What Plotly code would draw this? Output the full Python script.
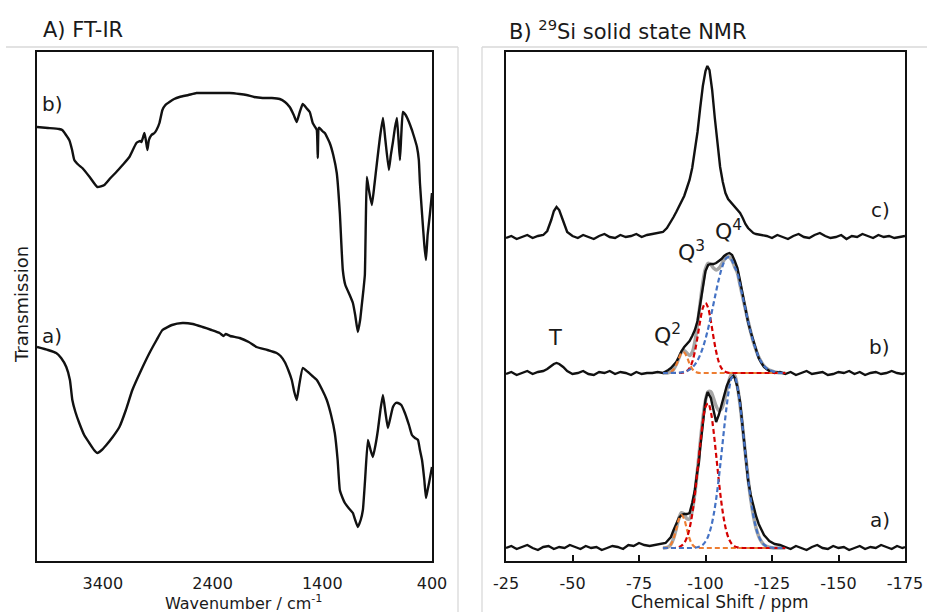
import plotly.graph_objects as go

# ---------------- A) FT-IR data (wavenumber cm-1, transmission arb. units, stacked) ----------------
ir_b_wn = [4000, 3900, 3800, 3770, 3706, 3680, 3660, 3620, 3587, 3520, 3450, 3386, 3330, 3277, 3220,
           3158, 3094, 3060, 3048, 3030, 3021, 3008, 2994, 2980, 2957, 2930, 2911, 2884, 2857, 2830,
           2793, 2750, 2701, 2620, 2546, 2450, 2363, 2245, 2153, 2090, 2020, 1943, 1860, 1788, 1740,
           1697, 1660, 1633, 1605, 1578, 1545, 1514, 1487, 1465, 1450, 1441, 1432, 1423, 1400, 1377,
           1332, 1300, 1268, 1240, 1213, 1190, 1150, 1121, 1100, 1076, 1055, 1040, 1025, 1012, 1003,
           994, 975, 948, 925, 902, 875, 847, 825, 793, 775, 756, 738, 720, 705, 692,
           680, 665, 640, 610, 583, 560, 537, 520, 510, 490, 470, 455, 440, 420, 400]
ir_b_t = [434, 433, 432, 431, 421, 411, 401, 396, 393, 384, 374, 376, 383, 389, 396,
          404, 418, 420, 419, 425, 428, 421, 411, 421, 426, 428, 431, 438, 451, 456,
          459, 462, 464, 466, 468, 468, 468, 468, 467, 466, 464, 463, 463, 462, 459,
          454, 446, 439, 449, 457, 453, 449, 438, 434, 431, 403, 433, 433, 430, 428,
          418, 406, 388, 348, 291, 276, 266, 258, 246, 229, 241, 256, 271, 286, 341,
          384, 371, 356, 376, 398, 423, 443, 421, 391, 406, 419, 433, 443, 421, 401,
          426, 449, 446, 439, 431, 423, 414, 401, 378, 346, 316, 301, 326, 346, 368]

ir_a_wn = [4000, 3900, 3825, 3780, 3733, 3700, 3678, 3650, 3615, 3570, 3523, 3480, 3450, 3410, 3368,
           3310, 3249, 3190, 3131, 3050, 2975, 2910, 2857, 2770, 2674, 2580, 2491, 2410, 2336, 2300,
           2280, 2240, 2153, 2070, 2000, 1900, 1816, 1780, 1742, 1710, 1678, 1655, 1633, 1610, 1578,
           1530, 1490, 1450, 1400, 1359, 1320, 1286, 1260, 1240, 1215, 1194, 1160, 1121, 1100, 1076,
           1050, 1030, 1010, 984, 960, 939, 915, 893, 870, 847, 825, 802, 780, 756, 730,
           710, 680, 647, 610, 583, 555, 528, 510, 491, 470, 455, 440, 427, 400]
ir_a_t = [214, 211, 208, 203, 194, 181, 161, 149, 138, 126, 118, 111, 108, 111, 116,
          124, 134, 151, 171, 191, 208, 221, 231, 236, 238, 237, 234, 231, 228, 225,
          227, 225, 223, 219, 214, 211, 208, 205, 199, 191, 181, 169, 161, 176, 193,
          189, 185, 181, 171, 161, 146, 128, 101, 71, 63, 58, 53, 48, 41, 34,
          41, 51, 81, 121, 111, 104, 116, 131, 151, 166, 149, 133, 143, 154, 158,
          158, 156, 148, 136, 126, 123, 121, 111, 101, 81, 63, 71, 78, 94]

ir_ticks = [3400, 2400, 1400, 400]

# ---------------- B) 29Si NMR data (ppm, intensity arb. units, stacked) ----------------
nmr_c_ppm = [-25, -27, -29, -31, -33, -35, -37, -39, -40.5, -42, -43, -44, -45, -46.5, -48, -50, -52,
             -54, -56, -58, -60, -62, -64, -66, -68, -70, -72, -74, -76, -78, -80, -82, -84, -85.5,
             -87, -88, -89, -90, -91, -92, -93, -94, -95, -96, -97, -98, -99, -100, -100.7, -101.5,
             -102.5, -103.5, -104.5, -105.5, -106.5, -107.5, -108.5, -110, -111.5, -113, -114, -115,
             -116, -117, -118, -119, -121, -123, -125, -127, -129, -131, -133, -135, -137, -139, -141,
             -143, -145, -147, -149, -151, -153, -155, -157, -159, -161, -163, -165, -167, -169, -171,
             -173, -175]
nmr_c_int = [323, 325, 322, 324, 326, 323, 325, 326, 330, 341, 350, 354, 351, 340, 329, 325, 323,
             326, 324, 322, 325, 327, 324, 323, 326, 324, 325, 327, 324, 326, 327, 328, 329, 333,
             339, 344, 349, 354, 359, 365, 373, 381, 393, 409, 429, 453, 475, 490, 495, 491,
             471, 443, 416, 394, 379, 368, 362, 357, 353, 348, 343, 337,
             333, 330, 328, 327, 326, 325, 323, 326, 324, 322, 325, 327, 324, 323, 326,
             328, 325, 323, 324, 326, 322, 325, 324, 327, 325, 323, 326, 324, 325, 323,
             324, 325]

nmr_b_ppm = [-25, -27, -29, -31, -33, -35, -37, -39, -40.5, -42, -43, -44, -45, -46.5, -48, -50, -52,
             -54, -56, -58, -60, -62, -64, -66, -68, -70, -72, -74, -76, -78, -80, -82, -84, -86,
             -87, -88, -89, -90, -91, -92, -93, -94, -95, -96, -97, -98, -99, -100, -101, -102,
             -103, -104, -105, -106, -107, -108, -109, -110, -111, -112, -113, -114, -115, -116,
             -117, -118, -119, -120, -121, -122, -123, -124, -126, -128, -130, -132, -134, -136,
             -138, -140, -142, -144, -146, -148, -150, -152, -154, -156, -158, -160, -162, -164,
             -166, -168, -170, -172, -174, -175]
nmr_b_int = [187, 189, 186, 188, 190, 187, 189, 190, 192, 195, 197, 198, 197, 194, 190, 187, 188,
             190, 187, 186, 189, 188, 190, 187, 189, 188, 186, 189, 187, 188, 188, 189, 188, 191,
             193, 196, 199, 204, 210, 214, 217, 220, 225, 231, 240, 258, 276, 290, 296, 297,
             297, 298, 300, 302, 305, 307, 308, 306, 300, 293, 280, 265, 251, 239,
             229, 220, 210, 203, 198, 194, 192, 190, 188, 189, 187, 189, 186, 188,
             190, 187, 188, 189, 186, 187, 189, 188, 190, 187, 189, 186, 188, 189,
             187, 188, 190, 188, 187, 188]

nmr_a_ppm = [-25, -27, -29, -31, -33, -35, -37, -39, -41, -43, -45, -47, -49, -51, -53, -55, -57,
             -59, -61, -63, -65, -67, -69, -71, -73, -75, -77, -79, -81, -83, -84, -85, -86, -87,
             -88, -89, -90, -91, -92, -93, -94, -95, -96, -97, -97.5, -98, -98.9, -99.5, -100,
             -100.8, -101.5, -102, -103, -104, -105, -106, -107, -108, -109, -110, -110.5, -111,
             -112, -113, -114, -115, -116, -117, -118, -119, -120, -121, -122, -123, -124, -126,
             -128, -130, -132, -134, -136, -138, -140, -142, -144, -146, -148, -150, -152, -154,
             -156, -158, -160, -162, -164, -166, -168, -170, -172, -174, -175]
nmr_a_int = [13, 15, 12, 14, 16, 13, 11, 14, 15, 12, 14, 13, 16, 14, 12, 15, 13,
             14, 11, 13, 15, 14, 12, 16, 15, 18, 16, 15, 16, 17, 17, 18, 21, 24,
             31, 37, 43, 46, 47, 47, 48, 58, 71, 91, 98, 113, 138, 151, 161,
             169, 166, 163, 151, 139, 146, 156, 167, 175, 181, 184, 185, 183,
             174, 159, 133, 108, 81, 66, 54, 45, 37, 31, 26, 23, 20, 17,
             16, 14, 12, 15, 13, 11, 14, 16, 13, 12, 15, 13, 14, 11,
             13, 15, 12, 14, 13, 16, 14, 12, 15, 13, 14]

# deconvolution components (height above spectrum baseline) on a common ppm grid
fit_ppm = [-84, -85, -86, -87, -88, -89, -90, -91, -92, -93, -94, -95, -96, -97, -98, -99, -100,
           -101, -102, -103, -104, -105, -106, -107, -108, -109, -110, -111, -112, -113, -114,
           -115, -116, -117, -118, -119, -120, -121, -122, -123, -124, -125, -126, -127, -128,
           -129, -130]
fit_b_base = 188
fit_b_q2 = [0, 0, 0.3, 1.1, 3.5, 8.2, 14.7, 20, 20.5, 16, 9.4, 4.2, 1.4, 0.4, 0, 0, 0,
            0, 0, 0, 0, 0, 0, 0, 0, 0, 0, 0, 0, 0, 0,
            0, 0, 0, 0, 0, 0, 0, 0, 0, 0, 0, 0, 0, 0, 0, 0]
fit_b_q3 = [0, 0, 0, 0, 0, 0, 0, 0.2, 0.6, 1.9, 4.8, 11, 21.4, 35.9, 52, 65, 70,
            65, 52, 35.9, 21.4, 11, 4.8, 1.9, 0.6, 0.2, 0, 0, 0, 0, 0,
            0, 0, 0, 0, 0, 0, 0, 0, 0, 0, 0, 0, 0, 0, 0, 0]
fit_b_q4 = [0, 0, 0, 0, 0.1, 0.2, 0.4, 0.7, 1.2, 2.1, 3.4, 5.4, 8.4, 12.6, 18.1, 25.3, 34.1,
            44.6, 56.5, 69.1, 81.7, 93.6, 103.7, 111.2, 115.3, 115.7, 112.3, 106, 100, 88, 76,
            64, 52, 41, 31, 23, 16, 11, 7, 4.5, 3, 2, 1, 0.5, 0.2, 0, 0]
fit_a_base = 13
fit_a_q2 = [0, 0.2, 1, 3.6, 9.5, 18.9, 28.7, 33, 28.7, 18.9, 9.5, 3.6, 1, 0.2, 0, 0, 0,
            0, 0, 0, 0, 0, 0, 0, 0, 0, 0, 0, 0, 0, 0,
            0, 0, 0, 0, 0, 0, 0, 0, 0, 0, 0, 0, 0, 0, 0, 0]
fit_a_q3 = [0, 0, 0, 0, 0, 0.3, 0.9, 2.3, 5.1, 10.4, 19.6, 33.8, 53.5, 77.6, 103.3, 126, 141,
            144.7, 136.3, 117.6, 93.1, 67.6, 45, 27.5, 15.4, 7.9, 3.7, 1.6, 0.6, 0.2, 0,
            0, 0, 0, 0, 0, 0, 0, 0, 0, 0, 0, 0, 0, 0, 0, 0]
fit_a_q4 = [0, 0, 0, 0, 0, 0, 0, 0, 0, 0, 0, 0, 0.3, 0.8, 1.6, 3.3, 6.5,
            11.7, 20, 32.3, 48.9, 69.9, 94.1, 119.4, 142.8, 160.9, 170.8, 170.8, 160.9, 142.8, 119.4,
            94.1, 69.9, 48.9, 32.3, 20, 11.7, 6.5, 3.3, 1.6, 0.8, 0.3, 0, 0, 0, 0, 0]

nmr_ticks = [-25, -50, -75, -100, -125, -150, -175]

# ---------------- figure ----------------
W, H = 927, 612
FONT = "DejaVu Sans"
BLACK = "#111111"
C_Q2, C_Q3, C_Q4, C_SUM = "#ED7D31", "#D40000", "#4472C4", "#A6A6A6"


def px(x):
    return x / W


def py(y):
    return 1 - y / H


fig = go.Figure()

# IR spectra
for wn, t in [(ir_b_wn, ir_b_t), (ir_a_wn, ir_a_t)]:
    fig.add_trace(go.Scatter(x=wn, y=t, mode="lines", line=dict(color=BLACK, width=2.4, shape="spline", smoothing=0.4),
                             xaxis="x", yaxis="y", showlegend=False, hoverinfo="skip"))

# NMR: fit sums (grey) underneath
for base, comps in [(fit_b_base, (fit_b_q2, fit_b_q3, fit_b_q4)), (fit_a_base, (fit_a_q2, fit_a_q3, fit_a_q4))]:
    total = [base + a + b + c for a, b, c in zip(*comps)]
    fig.add_trace(go.Scatter(x=fit_ppm, y=total, mode="lines", line=dict(color=C_SUM, width=3.5, shape="spline"),
                             xaxis="x2", yaxis="y2", showlegend=False, hoverinfo="skip"))

# NMR spectra
for ppm, inten in [(nmr_c_ppm, nmr_c_int), (nmr_b_ppm, nmr_b_int), (nmr_a_ppm, nmr_a_int)]:
    fig.add_trace(go.Scatter(x=ppm, y=inten, mode="lines", line=dict(color=BLACK, width=2.4),
                             xaxis="x2", yaxis="y2", showlegend=False, hoverinfo="skip"))

# NMR fit components (dashed, on top)
for base, comps in [(fit_b_base, (fit_b_q2, fit_b_q3, fit_b_q4)), (fit_a_base, (fit_a_q2, fit_a_q3, fit_a_q4))]:
    for comp, col in zip(comps, (C_Q2, C_Q3, C_Q4)):
        fig.add_trace(go.Scatter(x=fit_ppm, y=[base + v for v in comp], mode="lines",
                                 line=dict(color=col, width=2.2, dash="5px,3px", shape="spline"),
                                 xaxis="x2", yaxis="y2", showlegend=False, hoverinfo="skip"))

y_dom = [1 - 561 / H, 1 - 52 / H]
axis_common = dict(showline=True, mirror=True, linecolor=BLACK, linewidth=2, showgrid=False,
                   zeroline=False, automargin=False)

fig.update_layout(
    template="none",
    width=W, height=H,
    margin=dict(l=0, r=0, t=0, b=0, pad=0),
    paper_bgcolor="white", plot_bgcolor="white",
    font=dict(family=FONT, color="#1a1a1a", size=16),
    xaxis=dict(domain=[px(37), px(432)], range=[4000, 400], tickvals=ir_ticks,
               ticktext=[str(v) for v in ir_ticks], ticks="", anchor="y",
               tickfont=dict(size=16, family=FONT, color="#1a1a1a"), ticklabelstandoff=7, **axis_common),
    yaxis=dict(domain=y_dom, range=[0, 509], showticklabels=False, ticks="", anchor="x", **axis_common),
    xaxis2=dict(domain=[px(506), px(905)], range=[-25, -175], tickvals=nmr_ticks,
                ticktext=[str(v) for v in nmr_ticks], ticks="inside", ticklen=6, tickwidth=1.5,
                tickcolor=BLACK, anchor="y2",
                tickfont=dict(size=16, family=FONT, color="#1a1a1a"), ticklabelstandoff=7, **axis_common),
    yaxis2=dict(domain=y_dom, range=[0, 509], showticklabels=False, ticks="", anchor="x2", **axis_common),
)

# light grey panel frames
frame = dict(color="#D9D9D9", width=1.3)
for x0, y0, x1, y1 in [(6, 47, 458, 47), (458, 47, 458, 612), (482, 47, 927, 47), (482, 47, 482, 612)]:
    fig.add_shape(type="line", xref="paper", yref="paper", x0=px(x0), y0=py(y0), x1=px(x1), y1=py(y1),
                  line=frame)


def label(text, x, y, size, xanchor="center", yanchor="middle", angle=0):
    fig.add_annotation(text=text, x=px(x), y=py(y), xref="paper", yref="paper", showarrow=False,
                       xanchor=xanchor, yanchor=yanchor, textangle=angle,
                       font=dict(family=FONT, size=size, color="#1a1a1a"))


label("A) FT-IR", 41, 30, 21, xanchor="left")
label("B) <sup>29</sup>Si solid state NMR", 507, 30, 21, xanchor="left")
label("Transmission", 21, 305, 18, angle=-90)
label("Wavenumber / cm<sup>-1</sup>", 243, 602, 16)
label("Chemical Shift / ppm", 720, 602, 17)
label("b)", 40, 104, 20, xanchor="left")
label("a)", 40, 336, 20, xanchor="left")
label("c)", 892, 210, 20, xanchor="right")
label("b)", 892, 347, 20, xanchor="right")
label("a)", 892, 520, 20, xanchor="right")
label("T", 555, 338, 21)
label("Q<sup>2</sup>", 667, 334, 22)
label("Q<sup>3</sup>", 691, 251, 22)
label("Q<sup>4</sup>", 728, 230, 22)

fig.write_html("out.html")
